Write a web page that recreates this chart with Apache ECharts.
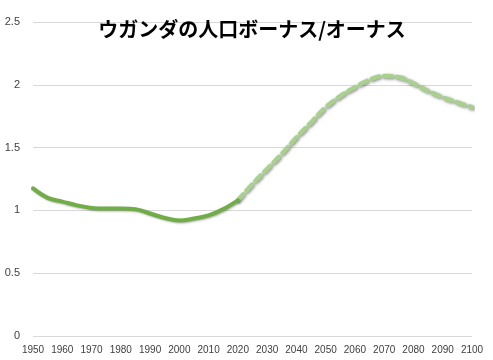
<!DOCTYPE html>
<html>
<head>
<meta charset="utf-8">
<script src="https://cdn.jsdelivr.net/npm/echarts@6/dist/echarts.min.js"></script>
<style>html,body{margin:0;padding:0;background:#fff}#c{width:493px;height:360px}</style>
</head>
<body>
<div id="c"></div>
<script>
const titleText = 'ウガンダの人口ボーナス/オーナス';
const actualYears = [1950,1955,1960,1965,1970,1975,1980,1985,1990,1995,2000,2005,2010,2015,2020];
const actualValues = [1.175,1.10,1.07,1.04,1.02,1.015,1.015,1.01,0.975,0.94,0.92,0.935,0.96,1.01,1.08];
const projYears = [2020,2025,2030,2035,2040,2045,2050,2055,2060,2065,2070,2075,2080,2085,2090,2095,2100];
const projValues = [1.08,1.21,1.33,1.45,1.58,1.70,1.82,1.91,1.98,2.04,2.07,2.06,2.01,1.95,1.90,1.86,1.82];
const yTicks = [0,0.5,1,1.5,2,2.5];

const chart = echarts.init(document.getElementById('c'), null, {renderer:'canvas'});
chart.setOption({
  animation:false,
  backgroundColor:'#fff',
  title:{text:titleText,left:247,textAlign:'center',top:14,
    textStyle:{fontFamily:'Noto Sans CJK JP',fontWeight:'bold',fontSize:20,color:'#000'}},
  grid:{left:33,right:21,top:22,bottom:24,containLabel:false},
  xAxis:{type:'value',min:1950,max:2100,interval:10,
    axisLine:{show:false},axisTick:{show:false},splitLine:{show:false},
    axisLabel:{color:'#404040',fontSize:10,fontFamily:'Liberation Sans',margin:9,
      formatter:v=>String(v)}},
  yAxis:{type:'value',min:yTicks[0],max:yTicks[yTicks.length-1],interval:0.5,
    axisLine:{show:false},axisTick:{show:false},
    splitLine:{lineStyle:{color:'#d9d9d9',width:1}},
    axisLabel:{color:'#404040',fontSize:11,fontFamily:'Liberation Sans',margin:13}},
  series:[
    {type:'line',smooth:0.4,symbol:'none',z:3,
      data:projYears.map((y,i)=>[y,projValues[i]]),
      lineStyle:{color:'#a9d18e',width:4.5,type:[8,5],cap:'round',
        shadowColor:'rgba(0,0,0,0.45)',shadowBlur:3,shadowOffsetX:1,shadowOffsetY:1}},
    {type:'line',smooth:0.4,symbol:'none',z:4,
      data:actualYears.map((y,i)=>[y,actualValues[i]]),
      lineStyle:{color:'#70ad47',width:4,cap:'round',
        shadowColor:'rgba(0,0,0,0.3)',shadowBlur:2,shadowOffsetX:1,shadowOffsetY:1}}
  ]
});
</script>
</body>
</html>
